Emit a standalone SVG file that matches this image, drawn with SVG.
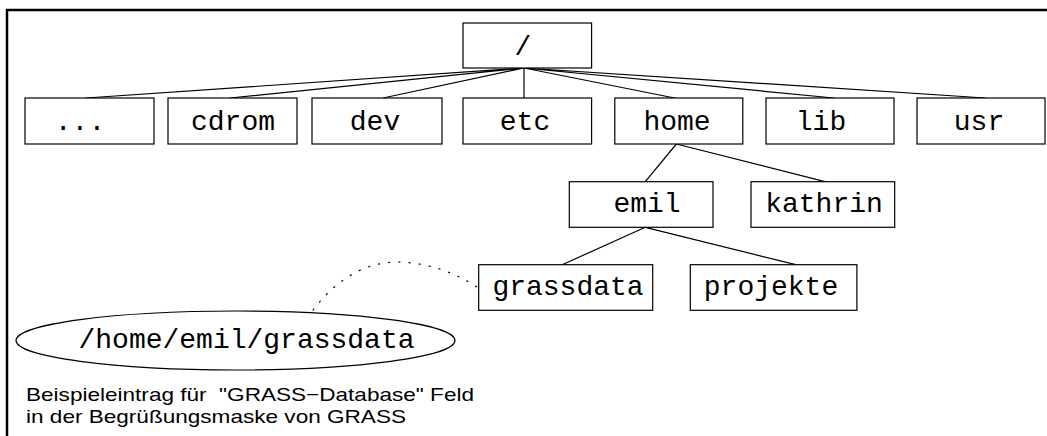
<svg xmlns="http://www.w3.org/2000/svg" width="1047" height="436" viewBox="0 0 1047 436">
<style>
.box{fill:#fff;stroke:#000;stroke-width:1.2}
.mono{font-family:"Liberation Mono","Courier New",monospace;font-size:28px;fill:#000;text-anchor:middle}
.sans{font-family:"Liberation Sans",Arial,sans-serif;font-size:19px;fill:#000}
.edge{stroke:#000;stroke-width:1.2;fill:none}
</style>
<rect width="1047" height="436" fill="#fff"/>
<path d="M7,436 V10 H1047" fill="none" stroke="#000" stroke-width="2.5"/>
<g id="connectors">
<path class="edge" d="M524,68 L86,98 M524,68 L230,98 M524,68 L383,98 M524,68 L524,98 M524,68 L674.6,98 M524,68 L834,98 M524,68 L985.5,98"/>
<path class="edge" d="M676.4,144 L645.3,181.7 M676.4,144 L825,181.7"/>
<path class="edge" d="M645.3,227.3 L562.2,264.7 M645.3,227.3 L795.8,264.7"/>
<path class="edge" d="M313,310 Q350,262 398,262 Q440,263 477,287" stroke-dasharray="1.2 9" stroke-linecap="round"/>
</g>
<g id="n-root"><rect class="box" x="463" y="23" width="128.6" height="45"/><text class="mono" x="523" y="55">/</text></g>
<g id="n-dots"><rect class="box" x="25" y="98" width="129" height="46"/><text class="mono" x="80" y="130">...</text></g>
<g id="n-cdrom"><rect class="box" x="168" y="98" width="129" height="46"/><text class="mono" x="233" y="130">cdrom</text></g>
<g id="n-dev"><rect class="box" x="312" y="98" width="130" height="46"/><text class="mono" x="375" y="130">dev</text></g>
<g id="n-etc"><rect class="box" x="463" y="98" width="128.6" height="46"/><text class="mono" x="525" y="130">etc</text></g>
<g id="n-home"><rect class="box" x="614.8" y="98" width="128" height="46"/><text class="mono" x="677" y="130">home</text></g>
<g id="n-lib"><rect class="box" x="766" y="98" width="128" height="46"/><text class="mono" x="821" y="130">lib</text></g>
<g id="n-usr"><rect class="box" x="917" y="98" width="128" height="46"/><text class="mono" x="979" y="130">usr</text></g>
<g id="n-emil"><rect class="box" x="569.3" y="181.7" width="143.7" height="45.6"/><text class="mono" x="647" y="212">emil</text></g>
<g id="n-kathrin"><rect class="box" x="751" y="181.7" width="143.7" height="45.6"/><text class="mono" x="824" y="212">kathrin</text></g>
<g id="n-grassdata"><rect class="box" x="478.7" y="264.7" width="174" height="45.6"/><text class="mono" x="568" y="295">grassdata</text></g>
<g id="n-projekte"><rect class="box" x="690.3" y="264.7" width="166.6" height="45.6"/><text class="mono" x="771" y="295">projekte</text></g>
<g id="n-path"><ellipse cx="235.5" cy="340.5" rx="219.5" ry="29.5" fill="#fff" stroke="#000" stroke-width="1.2"/><text class="mono" x="246.5" y="348">/home/emil/grassdata</text></g>
<g id="caption">
<text class="sans" x="26" y="401" textLength="448" lengthAdjust="spacingAndGlyphs" xml:space="preserve">Beispieleintrag für  "GRASS−Database" Feld</text>
<text class="sans" x="26" y="423" textLength="380" lengthAdjust="spacingAndGlyphs">in der Begrüßungsmaske von GRASS</text>
</g>
</svg>
